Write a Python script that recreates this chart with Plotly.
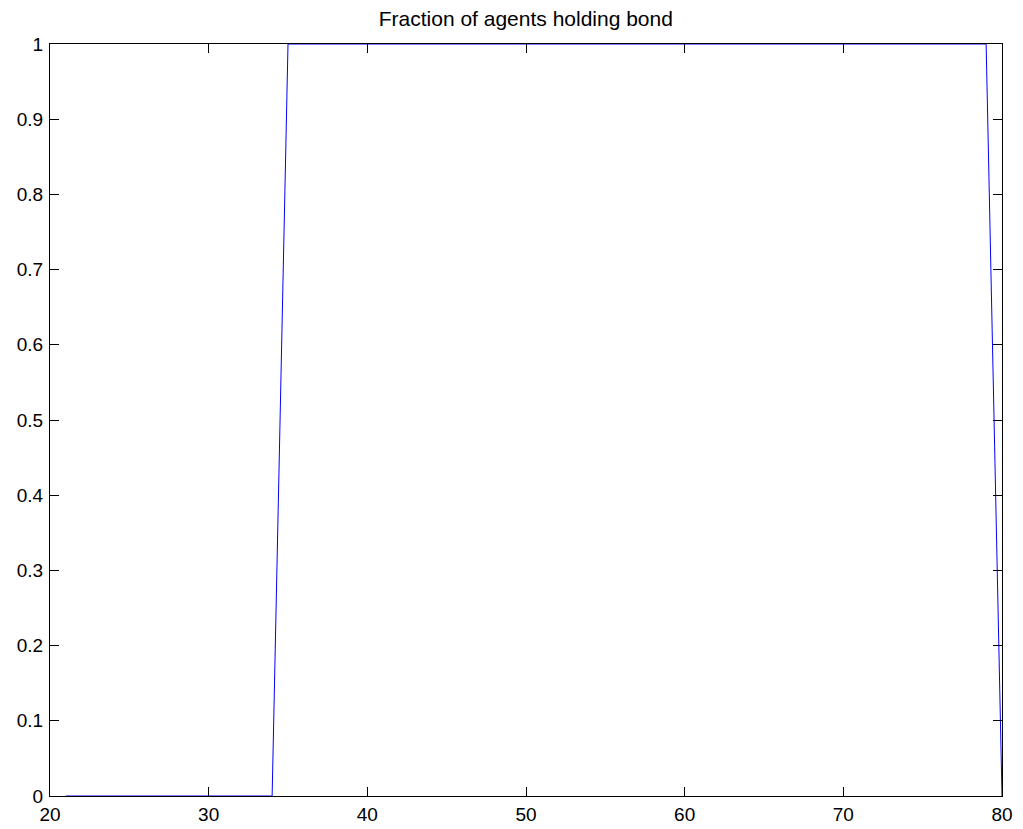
import plotly.graph_objects as go

periods = list(range(21, 81))
fraction_holding = [0]*14 + [1]*45 + [0]
x_ticks = [20, 30, 40, 50, 60, 70, 80]
y_ticks = [0, 0.1, 0.2, 0.3, 0.4, 0.5, 0.6, 0.7, 0.8, 0.9, 1]

FONT = "Liberation Sans, Arial, Helvetica"

fig = go.Figure()
fig.add_trace(go.Scatter(x=periods, y=fraction_holding, mode="lines",
                         line=dict(color="#0000ff", width=1), showlegend=False))

axis_common = dict(showgrid=False, zeroline=False, showline=True, linecolor="black",
                   linewidth=1, mirror="ticks", ticks="inside", ticklen=9,
                   tickcolor="black", tickwidth=1, automargin=False,
                   tickfont=dict(family=FONT, size=19, color="black"))

fig.update_layout(
    width=1023, height=829,
    margin=dict(l=50, r=21, t=44, b=33),
    paper_bgcolor="white", plot_bgcolor="white",
    title=dict(text="Fraction of agents holding bond", x=0.514, xanchor="center",
               y=1 - 19/829, yanchor="middle", automargin=False,
               font=dict(family=FONT, size=21, color="black")),
    xaxis=dict(range=[20, 80], tickvals=x_ticks, ticktext=[str(v) for v in x_ticks],
               ticklabelstandoff=1, **axis_common),
    yaxis=dict(range=[0, 1], tickvals=y_ticks, ticktext=[("%g" % v) for v in y_ticks],
               ticklabelstandoff=2, **axis_common),
)

fig.write_html("out.html")
